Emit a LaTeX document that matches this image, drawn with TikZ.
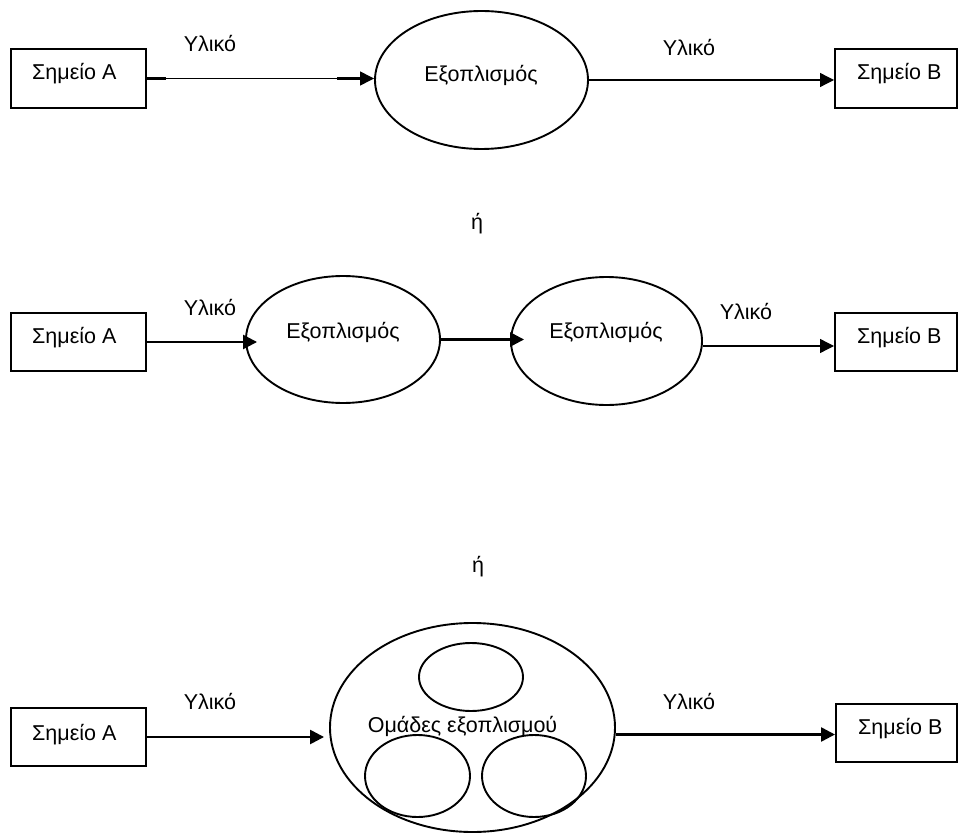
\documentclass[tikz,border=0pt]{standalone}
\usepackage{fontspec}
\setmainfont{Liberation Sans}
\usetikzlibrary{arrows.meta,shapes.geometric}

\tikzset{
  stationbox/.style={draw, line width=2pt, inner sep=0pt,
                     minimum height=58pt},
  unit/.style={draw, ellipse, line width=1.9pt, inner sep=0pt},
  lbl/.style={anchor=base, inner sep=0pt, font=\fontsize{21.5}{25}\selectfont},
  boxlbl/.style={anchor=base west, inner sep=0pt, font=\fontsize{21.5}{25}\selectfont},
  tip/.style={-{Triangle[length=14pt,width=14pt]}},
  thickflow/.style={tip, line width=2.5pt},
  thinflow/.style={tip, line width=1.3pt},
  stub/.style={line width=2.5pt}
}

\begin{document}
\begin{tikzpicture}[x=1pt, y=-1pt]
  \useasboundingbox (0,0) rectangle (958,834);

  % ---------- first layout: a single piece of equipment ----------
  \node[stationbox, minimum width=135pt, minimum height=59pt] (tA) at (78.5,78.5) {};
  \node[stationbox, minimum width=122pt, minimum height=59pt] (tB) at (896,78.5) {};
  \node[unit, minimum width=213pt, minimum height=138pt] (tE) at (481.5,80) {};
  \node[boxlbl] (tAl) at (32,80) {Σημείο Α};
  \node[boxlbl] (tBl) at (857,80) {Σημείο Β};
  \node[lbl] (tEl) at (481,82) {Εξοπλισμός};
  \node[lbl] (tM1) at (210,52) {Υλικό};
  \node[lbl] (tM2) at (689,56) {Υλικό};

  \draw[thinflow] (tA.east) -- (tA.east -| tE.west);
  \draw[stub] (tA.east) -- ++(19,0);
  \draw[stub] ([xshift=-37pt]tA.east -| tE.west) -- ([xshift=-10pt]tA.east -| tE.west);
  \draw[thinflow] (tE.east) -- (tE.east -| tB.west);
  \draw[stub] (tE.east) -- ++(55,0);

  \node[lbl] (or1) at (477,230) {ή};

  % ---------- second layout: two pieces in series ----------
  \node[stationbox, minimum width=135pt] (mA) at (78.5,342) {};
  \node[stationbox, minimum width=122pt] (mB) at (896,342) {};
  \node[unit, minimum width=194pt, minimum height=127pt] (mE1) at (343,339.5) {};
  \node[unit, minimum width=191pt, minimum height=128pt] (mE2) at (606.5,341) {};
  \node[boxlbl] (mAl) at (32,343) {Σημείο Α};
  \node[boxlbl] (mBl) at (857,343) {Σημείο Β};
  \node[lbl] (mE1l) at (343,338) {Εξοπλισμός};
  \node[lbl] (mE2l) at (606,338) {Εξοπλισμός};
  \node[lbl] (mM1) at (210,315) {Υλικό};
  \node[lbl] (mM2) at (746,319) {Υλικό};

  \draw[thickflow, shorten >=-12pt] (mA.east) -- (mA.east -| mE1.west);
  \draw[thickflow, shorten >=-14pt] (mE1.east) -- (mE1.east -| mE2.west);
  \draw[thinflow] ([yshift=-5pt]mE2.east) -- ([yshift=-5pt]mE2.east -| mB.west);

  \node[lbl] (or2) at (478,572) {ή};

  % ---------- third layout: a group of equipment ----------
  \node[stationbox, minimum width=135pt] (bA) at (78.5,737) {};
  \node[stationbox, minimum width=121pt] (bB) at (896.5,733) {};
  \node[unit, minimum width=285pt, minimum height=209pt] (bG) at (472.5,727.5) {};
  \node[unit, minimum width=104pt, minimum height=68pt] (bG1) at (471,677) {};
  \node[unit, minimum width=105pt, minimum height=82pt] (bG2) at (417.5,776) {};
  \node[unit, minimum width=104pt, minimum height=82pt] (bG3) at (534,776) {};
  \node[boxlbl] (bAl) at (32,740) {Σημείο Α};
  \node[boxlbl] (bBl) at (858,734) {Σημείο Β};
  \node[lbl] (bGl) at (462.5,732) {Ομάδες εξοπλισμού};
  \node[lbl] (bM1) at (210,709) {Υλικό};
  \node[lbl] (bM2) at (689,709) {Υλικό};

  \draw[thickflow, shorten >=5pt] (bA.east) -- (bA.east -| bG.west);
  \draw[thickflow] ([yshift=-7pt]bG.east) -- ([yshift=-7pt]bG.east -| bB.west);
\end{tikzpicture}
\end{document}
